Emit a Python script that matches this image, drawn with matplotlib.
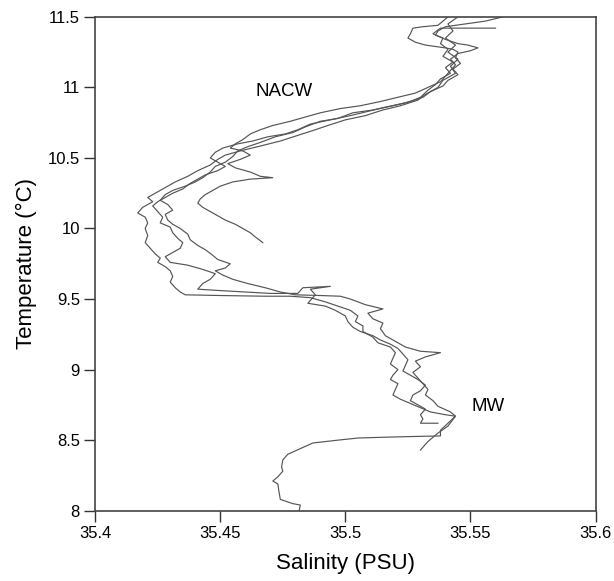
import matplotlib as mpl
import matplotlib.pyplot as plt
import numpy as np

plt.rcParams['font.family'] = ['Liberation Sans', 'DejaVu Sans']

# CTD casts, salinity (PSU) / temperature (degC)
sal_1 = [35.545, 35.541, 35.543, 35.540, 35.544, 35.541, 35.545, 35.542, 35.544, 35.539,
         35.537, 35.532, 35.529, 35.522, 35.515, 35.508, 35.500, 35.493, 35.488, 35.481,
         35.474, 35.465, 35.458, 35.452, 35.449, 35.446, 35.441, 35.437, 35.432, 35.428,
         35.424, 35.421, 35.423, 35.419, 35.417, 35.420, 35.421, 35.420, 35.421, 35.420,
         35.422, 35.424, 35.426, 35.425, 35.428, 35.430, 35.431, 35.430, 35.432, 35.434,
         35.436, 35.450, 35.468, 35.478, 35.486, 35.492, 35.497, 35.502, 35.505, 35.504,
         35.507, 35.507, 35.511, 35.513, 35.518, 35.520, 35.519, 35.518, 35.521, 35.519,
         35.518, 35.521, 35.520, 35.519, 35.522, 35.526, 35.530, 35.534, 35.540, 35.544,
         35.541, 35.538, 35.538, 35.525, 35.514, 35.505, 35.497, 35.487, 35.482, 35.477,
         35.475, 35.4745, 35.475, 35.473, 35.471, 35.473, 35.4735, 35.474, 35.479, 35.482,
         35.4815]
temp_1 = [11.50, 11.45, 11.40, 11.35, 11.30, 11.25, 11.20, 11.15, 11.10, 11.05,
          11.00, 10.95, 10.91, 10.87, 10.84, 10.80, 10.77, 10.73, 10.70, 10.66,
          10.62, 10.58, 10.55, 10.52, 10.49, 10.45, 10.41, 10.37, 10.33, 10.29,
          10.25, 10.22, 10.19, 10.15, 10.11, 10.08, 10.04, 10.00, 9.95, 9.90,
          9.86, 9.82, 9.79, 9.76, 9.73, 9.70, 9.66, 9.62, 9.58, 9.55,
          9.53, 9.525, 9.52, 9.52, 9.51, 9.48, 9.45, 9.42, 9.38, 9.34,
          9.31, 9.27, 9.23, 9.19, 9.16, 9.12, 9.08, 9.04, 9.00, 8.96,
          8.93, 8.90, 8.86, 8.82, 8.79, 8.76, 8.73, 8.70, 8.68, 8.67,
          8.62, 8.57, 8.53, 8.525, 8.52, 8.515, 8.50, 8.48, 8.44, 8.40,
          8.36, 8.31, 8.28, 8.24, 8.21, 8.19, 8.13, 8.08, 8.05, 8.04,
          8.00]

sal_2 = [35.563, 35.556, 35.548, 35.540, 35.537, 35.536, 35.539, 35.538, 35.541, 35.539,
         35.543, 35.540, 35.542, 35.538, 35.536, 35.533, 35.530, 35.526, 35.519, 35.511,
         35.503, 35.497, 35.490, 35.484, 35.479, 35.472, 35.466, 35.461, 35.457, 35.455,
         35.452, 35.448, 35.446, 35.443, 35.440, 35.436, 35.431, 35.428, 35.426, 35.429,
         35.431, 35.428, 35.429, 35.431, 35.434, 35.437, 35.438, 35.441, 35.444, 35.447,
         35.449, 35.454, 35.452, 35.448, 35.451, 35.455, 35.461, 35.468, 35.474, 35.480,
         35.490, 35.498, 35.502, 35.508, 35.515, 35.509, 35.511, 35.515, 35.514, 35.516,
         35.520, 35.524, 35.530, 35.538, 35.532, 35.528, 35.530, 35.527, 35.529, 35.531,
         35.533, 35.532, 35.535, 35.537, 35.542, 35.544, 35.541, 35.537, 35.533, 35.530]
temp_2 = [11.50, 11.47, 11.45, 11.43, 11.40, 11.37, 11.35, 11.31, 11.27, 11.22,
          11.18, 11.14, 11.10, 11.06, 11.02, 10.98, 10.93, 10.90, 10.87, 10.84,
          10.82, 10.78, 10.76, 10.72, 10.68, 10.65, 10.61, 10.58, 10.55, 10.51,
          10.47, 10.44, 10.40, 10.36, 10.33, 10.30, 10.27, 10.24, 10.20, 10.17,
          10.13, 10.10, 10.06, 10.03, 10.00, 9.96, 9.92, 9.88, 9.85, 9.81,
          9.78, 9.75, 9.72, 9.70, 9.67, 9.64, 9.61, 9.58, 9.55, 9.53,
          9.525, 9.52, 9.50, 9.46, 9.43, 9.40, 9.36, 9.33, 9.29, 9.24,
          9.20, 9.16, 9.13, 9.12, 9.09, 9.06, 9.02, 8.98, 8.94, 8.90,
          8.86, 8.82, 8.78, 8.74, 8.70, 8.67, 8.60, 8.55, 8.49, 8.43]

sal_3 = [35.541, 35.539, 35.537, 35.531, 35.527, 35.526, 35.525, 35.528, 35.532, 35.536,
         35.540, 35.543, 35.545, 35.544, 35.546, 35.543, 35.545, 35.541, 35.539, 35.534,
         35.531, 35.524, 35.516, 35.509, 35.502, 35.494, 35.486, 35.481, 35.476, 35.469,
         35.463, 35.457, 35.451, 35.448, 35.446, 35.449, 35.452, 35.449, 35.444, 35.441,
         35.438, 35.435, 35.431, 35.428, 35.425, 35.423, 35.425, 35.427, 35.426, 35.430,
         35.431, 35.433, 35.435, 35.434, 35.431, 35.428, 35.430, 35.437, 35.443, 35.448,
         35.446, 35.443, 35.441, 35.450, 35.460, 35.470, 35.481, 35.483, 35.494, 35.486,
         35.488, 35.485, 35.492, 35.496, 35.500, 35.501, 35.503, 35.506, 35.511, 35.514,
         35.518, 35.521, 35.523, 35.525, 35.524, 35.523, 35.526, 35.529, 35.532, 35.530,
         35.527, 35.526, 35.529, 35.532, 35.530, 35.531, 35.530, 35.537]
temp_3 = [11.50, 11.47, 11.44, 11.43, 11.42, 11.38, 11.35, 11.32, 11.30, 11.29,
          11.28, 11.27, 11.25, 11.21, 11.17, 11.13, 11.09, 11.05, 11.01, 10.97,
          10.93, 10.89, 10.86, 10.83, 10.80, 10.77, 10.74, 10.70, 10.67, 10.65,
          10.62, 10.60, 10.57, 10.54, 10.50, 10.47, 10.44, 10.41, 10.38, 10.35,
          10.32, 10.28, 10.25, 10.22, 10.19, 10.16, 10.12, 10.08, 10.04, 10.01,
          9.97, 9.93, 9.90, 9.86, 9.83, 9.80, 9.76, 9.74, 9.71, 9.68,
          9.64, 9.61, 9.57, 9.56, 9.55, 9.54, 9.54, 9.58, 9.59, 9.57,
          9.53, 9.47, 9.45, 9.42, 9.38, 9.34, 9.30, 9.27, 9.24, 9.21,
          9.18, 9.15, 9.11, 9.07, 9.03, 8.99, 8.96, 8.93, 8.89, 8.85,
          8.82, 8.78, 8.75, 8.72, 8.68, 8.65, 8.62, 8.62]

sal_4 = [35.560, 35.548, 35.538, 35.535, 35.540, 35.545, 35.549, 35.553, 35.550, 35.545,
         35.542, 35.544, 35.542, 35.540, 35.538, 35.533, 35.528, 35.521, 35.514, 35.506,
         35.498, 35.490, 35.484, 35.478, 35.471, 35.466, 35.462, 35.459, 35.456, 35.454,
         35.459, 35.462, 35.458, 35.453, 35.456, 35.462, 35.466, 35.471, 35.462, 35.455,
         35.450, 35.447, 35.444, 35.442, 35.441, 35.443, 35.446, 35.449, 35.452, 35.456,
         35.459, 35.462, 35.464, 35.467]
temp_4 = [11.42, 11.42, 11.42, 11.38, 11.34, 11.31, 11.30, 11.28, 11.26, 11.24,
          11.20, 11.16, 11.12, 11.08, 11.04, 11.00, 10.96, 10.93, 10.90, 10.87,
          10.85, 10.82, 10.79, 10.76, 10.73, 10.70, 10.67, 10.63, 10.60, 10.57,
          10.55, 10.52, 10.49, 10.46, 10.43, 10.40, 10.37, 10.36, 10.35, 10.33,
          10.30, 10.27, 10.24, 10.21, 10.18, 10.15, 10.12, 10.09, 10.06, 10.03,
          10.00, 9.97, 9.94, 9.90]

profiles = [(sal_1, temp_1), (sal_2, temp_2), (sal_3, temp_3), (sal_4, temp_4)]

xticks = [35.4, 35.45, 35.5, 35.55, 35.6]
yticks = [8, 8.5, 9, 9.5, 10, 10.5, 11, 11.5]

fig = plt.figure(figsize=(6.14, 5.81), dpi=100)
ax = fig.add_axes([0.155, 0.121, 0.815, 0.850])

for s, t in profiles:
    ax.plot(s, t, color="#555555", lw=0.85)

ax.text(35.4756, 10.97, "NACW", fontsize=13.5, ha="center", va="center")
ax.text(35.557, 8.74, "MW", fontsize=13.5, ha="center", va="center")

ax.set_xlim(35.4, 35.6)
ax.set_ylim(8, 11.5)
ax.set_xticks(xticks)
ax.set_xticklabels([f"{v:g}" for v in xticks])
ax.set_yticks(yticks)
ax.set_yticklabels([f"{v:g}" for v in yticks])
ax.tick_params(direction="out", length=8, width=1, pad=3, labelsize=12, color="#333333")
for sp in ax.spines.values():
    sp.set_color("#444444")
    sp.set_linewidth(1.2)

ax.set_xlabel("Salinity (PSU)", fontsize=16, labelpad=9)
ax.set_ylabel("Temperature (°C)", fontsize=16, labelpad=8)

fig.savefig("out.png", dpi=100)
